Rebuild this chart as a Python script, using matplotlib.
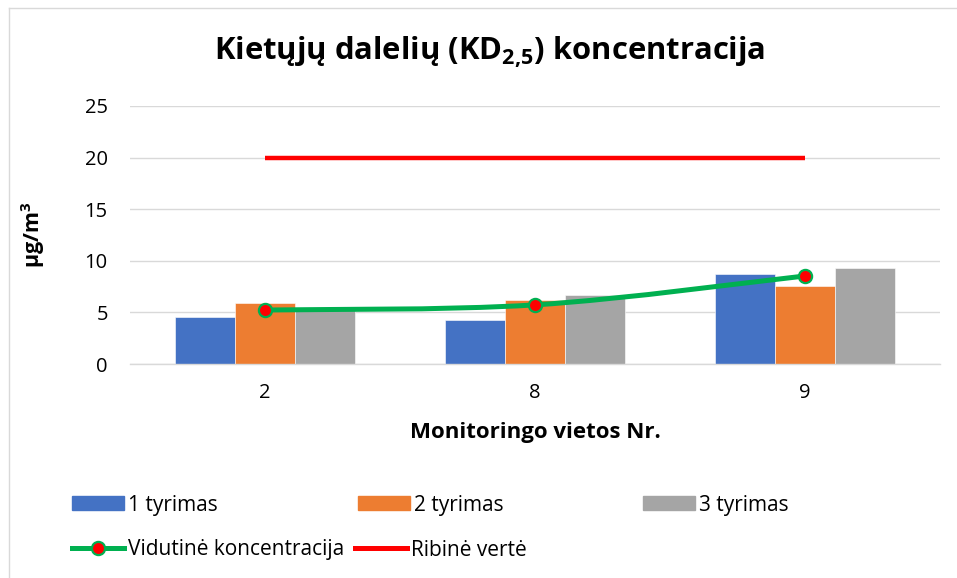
import matplotlib
matplotlib.use("Agg")
import matplotlib.pyplot as plt
import numpy as np
from matplotlib.path import Path
from matplotlib.patches import PathPatch, Patch
from matplotlib.lines import Line2D

categories = ["2", "8", "9"]
tyrimas1 = [4.6, 4.3, 8.7]
tyrimas2 = [5.9, 6.2, 7.6]
tyrimas3 = [5.2, 6.7, 9.3]
vidutine = [5.23, 5.73, 8.53]
ribine = [20, 20, 20]
series_names = ["1 tyrimas", "2 tyrimas", "3 tyrimas"]
line_names = ["Vidutinė koncentracija", "Ribinė vertė"]
yticks = [0, 5, 10, 15, 20, 25]

FONT = "Open Sans"
plt.rcParams['font.family'] = [FONT, 'DejaVu Sans']
plt.rcParams['mathtext.fontset'] = 'custom'
plt.rcParams['mathtext.rm'] = FONT
plt.rcParams['mathtext.bf'] = FONT + ':bold'
plt.rcParams['mathtext.it'] = FONT + ':italic'

W, H = 957, 578
fig = plt.figure(figsize=(W / 100, H / 100), dpi=100)
ax = fig.add_axes([130 / W, (H - 364) / H, 810 / W, 258 / H])

colors = ["#4472C4", "#ED7D31", "#A5A5A5"]
x = np.arange(len(categories))
bw = 0.222
for i, vals in enumerate([tyrimas1, tyrimas2, tyrimas3]):
    ax.bar(x + (i - 1) * bw, vals, width=bw, color=colors[i], zorder=2,
           edgecolor="white", linewidth=0.4)

# Red limit line
ax.plot(x, ribine, color="#FF0000", lw=3.2, zorder=3, solid_capstyle="butt")

# Smoothed mean line (Bezier through data points, Excel-like smoothing)
pts = np.column_stack([x.astype(float), np.array(vidutine)])
verts = [tuple(pts[0])]
codes = [Path.MOVETO]
n = len(pts)
for k in range(n - 1):
    p_prev = pts[k - 1] if k > 0 else pts[k]
    p0, p1 = pts[k], pts[k + 1]
    p_next = pts[k + 2] if k + 2 < n else pts[k + 1]
    c1 = p0 + (p1 - p_prev) / 6.0
    c2 = p1 - (p_next - p0) / 6.0
    verts += [tuple(c1), tuple(c2), tuple(p1)]
    codes += [Path.CURVE4] * 3
ax.add_patch(PathPatch(Path(verts, codes), fill=False, edgecolor="#00B050",
                       lw=3.6, zorder=4, capstyle="round"))
ax.plot(x, vidutine, linestyle="none", marker="o", markersize=9.5,
        markerfacecolor="#FF0000", markeredgecolor="#00B050",
        markeredgewidth=1.6, zorder=5)

ax.set_xlim(-0.5, 2.5)
ax.set_ylim(0, 25)
ax.set_yticks(yticks)
ax.set_xticks(x)
ax.set_xticklabels(categories)
ax.tick_params(axis="both", length=0, labelsize=14.5, colors="black")
ax.tick_params(axis="y", pad=16)
ax.tick_params(axis="x", pad=14)
ax.grid(axis="y", color="#D9D9D9", lw=1.0, zorder=0)
ax.set_axisbelow(True)
for s in ["top", "right", "left"]:
    ax.spines[s].set_visible(False)
ax.spines["bottom"].set_color("#D9D9D9")
ax.spines["bottom"].set_linewidth(1.0)

ax.set_xlabel("Monitoringo vietos Nr.", fontsize=16, fontweight="bold")
ax.xaxis.set_label_coords(0.5, -0.225)
ax.set_ylabel("µg/m$^{\\mathbf{3}}$", fontsize=15.5, fontweight="bold")
ax.yaxis.set_label_coords(-0.102, 0.5)

fig.text(490 / W, 1 - 52 / H, "Kietųjų dalelių (KD$_{\\mathbf{2{,}5}}$) koncentracija",
         fontsize=22.3, fontweight="bold", ha="center", va="center")

# Chart border (top and left visible)
fig.add_artist(Line2D([9 / W, 9 / W], [0, 1 - 8 / H], transform=fig.transFigure,
                      color="#D9D9D9", lw=1.0))
fig.add_artist(Line2D([9 / W, 1], [1 - 8 / H, 1 - 8 / H], transform=fig.transFigure,
                      color="#D9D9D9", lw=1.0))

# Legend entries placed like Excel
FS_LEG = 15
def add_entry(handle, label, px, py):
    leg = fig.legend([handle], [label], loc="center left",
                     bbox_to_anchor=(px / W, 1 - py / H), frameon=False,
                     fontsize=FS_LEG, handlelength=2.5, handletextpad=0.2,
                     borderpad=0, borderaxespad=0, numpoints=1,
                     handleheight=0.65)
    return leg

add_entry(Patch(color=colors[0]), series_names[0], 72, 505)
add_entry(Patch(color=colors[1]), series_names[1], 358, 505)
add_entry(Patch(color=colors[2]), series_names[2], 643, 505)
add_entry(Line2D([], [], color="#00B050", lw=3.6, marker="o", markersize=9.5,
                 markerfacecolor="#FF0000", markeredgecolor="#00B050",
                 markeredgewidth=1.6), line_names[0], 72, 550)
add_entry(Line2D([], [], color="#FF0000", lw=3.6), line_names[1], 355, 550)

fig.savefig("out.png", dpi=100)
